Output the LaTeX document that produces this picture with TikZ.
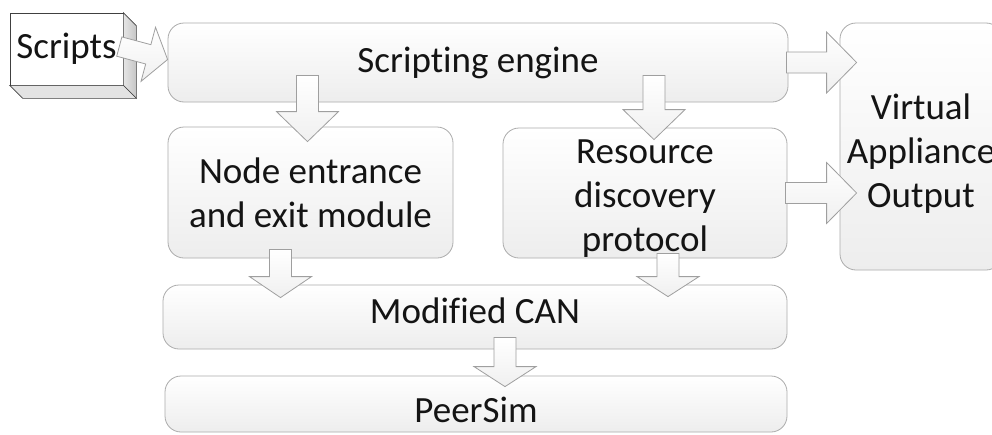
\documentclass[tikz,border=0pt]{standalone}
\usepackage{fontspec}
\setmainfont{Carlito}[Ligatures=NoCommon]
\usetikzlibrary{calc}

% vertical block arrow: #1 start (shaft top), #2 tip, #3 head length
\newcommand\vblock[3]{%
  \draw[blockarrow] let \p1=#1, \p2=#2 in
    (\x1-11pt,\y1) -- (\x1-11pt,\y2+#3pt) -- (\x1-31pt,\y2+#3pt) -- (\x1,\y2)
    -- (\x1+31pt,\y2+#3pt) -- (\x1+11pt,\y2+#3pt) -- (\x1+11pt,\y1) -- cycle;}
% horizontal block arrow: #1 start (shaft left), #2 tip, #3 head length
\newcommand\hblock[3]{%
  \draw[blockarrow] let \p1=#1, \p2=#2 in
    (\x1,\y1+10.5pt) -- (\x2-#3pt,\y1+10.5pt) -- (\x2-#3pt,\y1+30.5pt) -- (\x2,\y1)
    -- (\x2-#3pt,\y1-30.5pt) -- (\x2-#3pt,\y1-10.5pt) -- (\x1,\y1-10.5pt) -- cycle;}

\begin{document}
\begin{tikzpicture}[x=1pt,y=-1pt,
  txt/.style={font=\fontsize{37}{44}\selectfont, text=black!92, align=center},
  box/.style={draw=gray!65, line width=0.8pt, rounded corners=16pt,
    top color=white, bottom color=gray!14, inner sep=0pt},
  blockarrow/.style={draw=gray!75, line width=0.8pt, line join=miter,
    top color=white, bottom color=gray!12}]

\useasboundingbox (0,0) rectangle (992,434);
\fill[white] (0,0) rectangle (992,434);
\clip (0,0) rectangle (992,434);

% layers of the architecture
\node[box, minimum width=620, minimum height=79] (se) at (478,62.5) {};
\node[box, minimum width=285, minimum height=131] (ne) at (310.5,192.5) {};
\node[box, minimum width=284, minimum height=130] (rd) at (645,193) {};
\node[box, minimum width=624, minimum height=64] (can) at (475,317) {};
\node[box, minimum width=622, minimum height=56] (ps) at (476,404) {};
\node[box, minimum width=162, minimum height=247] (va) at (921,146.5) {};

% layer labels
\node[txt] (se-text) at (se.center) {Scripting engine};
\node[txt] (ne-text) at (ne.center) {Node entrance\\and exit module};
\node[txt] (rd-text) at ($(rd.center)+(0,6)$) {Resource\\discovery\\protocol};
\node[txt] (can-text) at ($(can.center)+(0,-6)$) {Modified CAN};
\node[txt] (ps-text) at ($(ps.center)+(0,6)$) {PeerSim};
\node[txt] (va-text) at ($(va.center)+(0,7)$) {Virtual\\Appliance\\Output};

% scripts input as a raised block
\node[txt, draw=black!75, line width=0.7pt, fill=white, minimum width=113, minimum height=72,
  inner sep=0pt] (scripts) at (66.5,49) {Scripts};
\path[draw=black!75, line width=0.7pt, left color=gray!20, right color=gray!45]
  (scripts.north east) -- ($(scripts.north east)+(13,13)$) -- ($(scripts.south east)+(13,13)$)
  -- (scripts.south east) -- cycle;
\path[draw=black!75, line width=0.7pt, fill=gray!22]
  (scripts.south west) -- (scripts.south east) -- ($(scripts.south east)+(13,13)$)
  -- ($(scripts.south west)+(13,13)$) -- cycle;

% Scripts -> Scripting engine, tilted block arrow
\coordinate (sin) at ($(se.west)+(0,-3)$);
\begin{scope}[shift={(sin)}, rotate=-15]
  \draw[blockarrow] (-50,-10) -- (-20,-10) -- (-20,-28) -- (0,0) -- (-20,28) -- (-20,10)
    -- (-50,10) -- cycle;
\end{scope}

% flow between layers
\vblock{($(se.south -| ne.north)+(-3,-27)$)}{($(ne.north)+(-3,15)$)}{30}
\vblock{($(se.south -| rd.north)+(9,-27)$)}{($(rd.north)+(9,12)$)}{30}
\vblock{($(ne.south)+(-30,-9)$)}{($(can.north -| ne.south)+(-30,13)$)}{21}
\vblock{($(rd.south)+(23,-5)$)}{($(can.north -| rd.south)+(23,12)$)}{20}
\vblock{($(can.south)+(30,-12)$)}{($(ps.north)+(29,11)$)}{20}

% outputs to the virtual appliance
\hblock{($(se.east)+(-2,0)$)}{($(se.east -| va.west)+(17,0)$)}{30}
\hblock{($(rd.east)+(-2,0)$)}{($(rd.east -| va.west)+(17,0)$)}{30}
\end{tikzpicture}
\end{document}
